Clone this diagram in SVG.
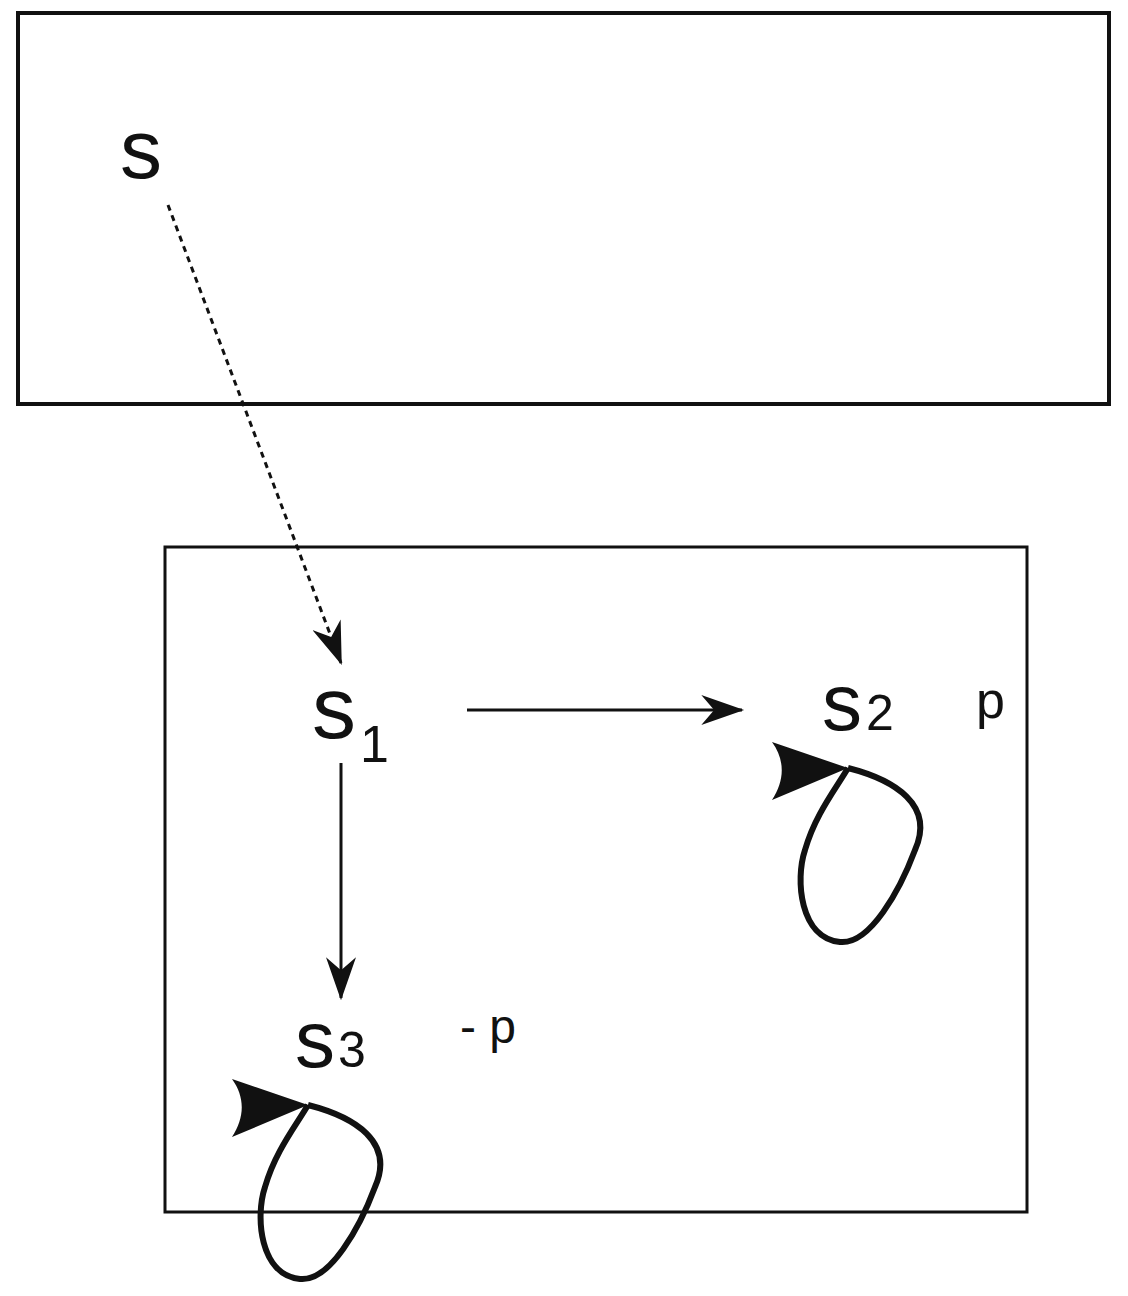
<svg xmlns="http://www.w3.org/2000/svg" width="1128" height="1296" viewBox="0 0 1128 1296">
<defs>
<style>
.t{font-family:"Liberation Sans",Arial,sans-serif;fill:#111}
.ln{stroke:#111;stroke-width:3;fill:none}
.loop{stroke:#111;stroke-width:6;fill:none}
</style>
<marker id="ah" viewBox="0 0 20 14" refX="19" refY="7" markerWidth="44" markerHeight="30" markerUnits="userSpaceOnUse" orient="auto">
<path d="M0,0 L20,7 L0,14 L6,7 Z" fill="#111"/>
</marker>
<path id="lp" d="M848,768 C895,780 935,805 915,850 C900,890 870,945 840,942 C800,938 795,880 805,850 C815,815 835,790 848,768"/>
<path id="hd" d="M772,742 L848,768 L772,800 C785,780 785,760 772,742 Z"/>
</defs>
<g id="outer"><rect x="18" y="13" width="1091" height="391" fill="none" stroke="#111" stroke-width="4"/></g>
<g id="inner"><rect x="165" y="547" width="862" height="665" fill="none" stroke="#111" stroke-width="3"/></g>
<g id="n-s"><text class="t" x="120" y="178" font-size="84">s</text></g>
<g id="n-s1"><text class="t" x="312" y="738" font-size="88">s</text><text class="t" x="360" y="762" font-size="52">1</text></g>
<g id="n-s2"><text class="t" x="822" y="730" font-size="80">s</text><text class="t" x="866" y="730" font-size="50">2</text><text class="t" x="976" y="718" font-size="52">p</text></g>
<g id="n-s3"><text class="t" x="295" y="1067" font-size="80">s</text><text class="t" x="338" y="1067" font-size="50">3</text><text class="t" x="460" y="1043" font-size="48">- p</text></g>
<g id="connectors">
<line class="ln" x1="168" y1="205" x2="341" y2="663" stroke-dasharray="6,5" marker-end="url(#ah)"/>
<line class="ln" x1="467" y1="710" x2="742" y2="710" marker-end="url(#ah)"/>
<line class="ln" x1="341" y1="763" x2="341" y2="998" marker-end="url(#ah)"/>
<use href="#lp" class="loop"/><use href="#hd" fill="#111"/>
<g transform="translate(-540,337)"><use href="#lp" class="loop"/><use href="#hd" fill="#111"/></g>
</g>
</svg>
